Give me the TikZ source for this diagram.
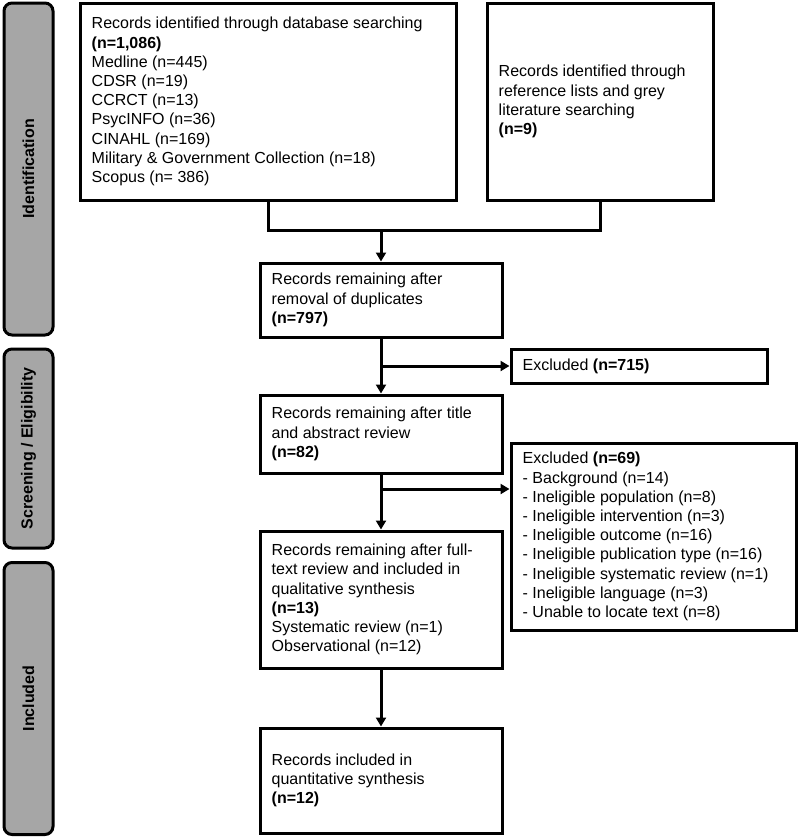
\documentclass[tikz,border=0pt]{standalone}
\usepackage{fontspec}
\setmainfont{Liberation Sans}
\usetikzlibrary{arrows.meta}
\definecolor{bargrey}{RGB}{166,166,166}
\tikzset{
  boxshape/.style={draw=black, line width=3pt, fill=white, inner sep=0pt, rectangle},
  txt/.style={anchor=west, align=left, inner sep=0pt, font=\fontsize{16}{19.2}\selectfont},
  sidebar/.style={draw=black, line width=3pt, fill=bargrey, rounded corners=8pt, inner sep=0pt, rectangle},
  sidetxt/.style={rotate=90, font=\fontsize{16}{19.2}\selectfont\bfseries},
  conn/.style={draw=black, line width=3pt},
  arr/.style={draw=black, line width=3pt, -{Triangle[length=9pt,width=10pt]}}
}
\begin{document}
\begin{tikzpicture}[x=1pt,y=-1pt]
\useasboundingbox (0,0) rectangle (800,838);

% side bars
\node[sidebar, minimum width=49pt, minimum height=332pt] (s1) at (28.5,169) {};
\node[sidetxt] (s1t) at (s1.center) {Identification};
\node[sidebar, minimum width=49pt, minimum height=199pt] (s2) at (28.5,448.5) {};
\node[sidetxt] (s2t) at (s2.center) {Screening / Eligibility};
\node[sidebar, minimum width=49pt, minimum height=272pt] (s3) at (28.5,698.5) {};
\node[sidetxt] (s3t) at (s3.center) {Included};

% boxes
\node[boxshape, minimum width=376pt, minimum height=197pt] (b1) at (268,101.5) {};
\node[txt] (t1) at ([xshift=13pt]b1.west) {Records identified through database searching\\
\textbf{(n=1,086)}\\
Medline (n=445)\\
CDSR (n=19)\\
CCRCT (n=13)\\
PsycINFO (n=36)\\
CINAHL (n=169)\\
Military \& Government Collection (n=18)\\
Scopus (n= 386)};

\node[boxshape, minimum width=226pt, minimum height=197pt] (b2) at (600,101.5) {};
\node[txt] (t2) at ([xshift=13pt]b2.west) {Records identified through\\
reference lists and grey\\
literature searching\\
\textbf{(n=9)}};

\node[boxshape, minimum width=242pt, minimum height=74pt] (b3) at (381,300) {};
\node[txt] (t3) at ([xshift=13pt]b3.west) {Records remaining after\\
removal of duplicates\\
\textbf{(n=797)}};

\node[boxshape, minimum width=256pt, minimum height=34pt] (e1) at (639,366) {};
\node[txt] (te1) at ([xshift=13pt]e1.west) {Excluded \textbf{(n=715)}};

\node[boxshape, minimum width=242pt, minimum height=78pt] (b4) at (381,434) {};
\node[txt] (t4) at ([xshift=13pt]b4.west) {Records remaining after title\\
and abstract review\\
\textbf{(n=82)}};

\node[boxshape, minimum width=285pt, minimum height=187pt] (e2) at (653.5,536.5) {};
\node[txt] (te2) at ([xshift=13pt]e2.west) {Excluded \textbf{(n=69)}\\
- Background (n=14)\\
- Ineligible population (n=8)\\
- Ineligible intervention (n=3)\\
- Ineligible outcome (n=16)\\
- Ineligible publication type (n=16)\\
- Ineligible systematic review (n=1)\\
- Ineligible language (n=3)\\
- Unable to locate text (n=8)};

\node[boxshape, minimum width=242pt, minimum height=137pt] (b5) at (381,599.5) {};
\node[txt] (t5) at ([xshift=13pt]b5.west) {Records remaining after full-\\
text review and included in\\
qualitative synthesis\\
\textbf{(n=13)}\\
Systematic review (n=1)\\
Observational (n=12)};

\node[boxshape, minimum width=242pt, minimum height=105pt] (b6) at (381,780.5) {};
\node[txt] (t6) at ([xshift=13pt]b6.west) {Records included in\\
quantitative synthesis\\
\textbf{(n=12)}};

% connectors
\coordinate (j) at (381,230);
\coordinate (k) at (381,489);
\draw[conn] (b1.south) -- (b1.south |- j) -- (b2.south |- j) -- (b2.south);
\draw[arr] (j) -- (b3.north);
\draw[arr] (b3.south) -- (b4.north);
\draw[arr] (b3.south |- e1.west) -- (e1.west);
\draw[arr] (b4.south) -- (b5.north);
\draw[arr] (k) -- (e2.west |- k);
\draw[arr] (b5.south) -- (b6.north);
\end{tikzpicture}
\end{document}
